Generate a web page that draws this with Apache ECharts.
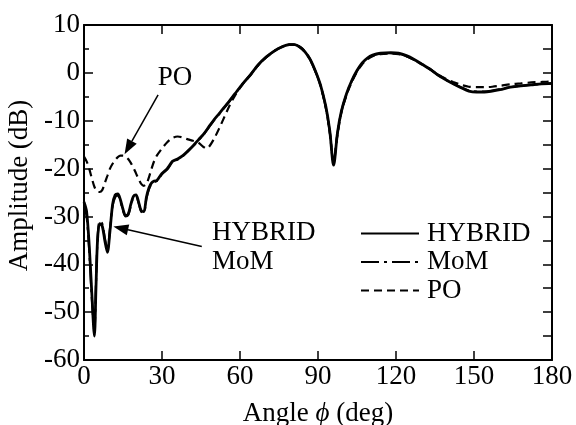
<!DOCTYPE html>
<html><head><meta charset="utf-8">
<script src="https://cdn.jsdelivr.net/npm/echarts@6/dist/echarts.min.js"></script>
<style>html,body{margin:0;padding:0;background:#fff}#c{width:576px;height:425px}</style>
</head><body><div id="c"></div>
<script>
var xTicks = [0, 30, 60, 90, 120, 150, 180];
var yTicks = [-60, -50, -40, -30, -20, -10, 0, 10];
var seriesNames = ['HYBRID', 'MoM', 'PO'];

var hybrid = [[0,-27],[1,-29],[2,-36],[3,-46],[4,-55],[4.6,-45],[5.2,-35],[6,-31.5],[7,-32],[8,-35],[9,-37.5],[10,-33],[11,-27.5],[12,-25.5],[13,-25.3],[14,-26.5],[15,-28.5],[16,-29.8],[17,-29.5],[18,-27.5],[19,-25.8],[20,-25.5],[21,-27],[22,-28.8],[23,-29],[24,-26],[25,-24],[26,-23],[27,-22.6],[28,-22.5],[30,-21],[32,-20],[34,-18.5],[36,-18],[38,-17.3],[40,-16.3],[42,-15.2],[44,-14],[46,-12.8],[48,-11.3],[50,-9.8],[52,-8.5],[55,-6.5],[58,-4.4],[61,-2.3],[64,-0.4],[67,1.7],[70,3.3],[73,4.5],[76,5.4],[79,5.9],[81,5.9],[83,5.4],[85,4.4],[87,2.8],[89,0.4],[91,-2.6],[93,-7],[94.5,-12],[96,-19.3],[97.5,-12.5],[99,-8],[101,-4.3],[103,-1.6],[105,0.5],[107,2.1],[109,3.1],[111,3.7],[114,4.1],[118,4.2],[121,4.1],[124,3.6],[127,2.8],[130,1.8],[133,0.8],[136,-0.4],[139,-1.4],[142,-2.3],[145,-3.1],[148,-3.8],[151,-4.0],[154,-4.0],[157,-3.8],[160,-3.5],[164,-3.0],[168,-2.7],[172,-2.5],[176,-2.3],[180,-2.2]];

var mom = [[0,-27.5],[1,-30],[2,-37],[3,-47],[4,-54],[4.6,-44],[5.2,-35],[6,-31],[7,-31.5],[8,-34.5],[9,-37],[10,-32.5],[11,-27.8],[12,-26],[13,-25.6],[14,-26.8],[15,-28.8],[16,-30],[17,-29.7],[18,-27.8],[19,-26],[20,-25.7],[21,-27.2],[22,-29],[23,-29.3],[24,-26.3],[25,-24.3],[26,-23.2],[27,-22.8],[28,-22.6],[30,-21.2],[32,-20.2],[34,-18.7],[36,-18.1],[38,-17.4],[40,-16.4],[42,-15.3],[44,-14.1],[46,-12.9],[48,-11.4],[50,-9.9],[52,-8.6],[55,-6.6],[58,-4.5],[61,-2.3],[64,-0.4],[67,1.6],[70,3.2],[73,4.5],[76,5.4],[79,5.9],[81,5.9],[83,5.4],[85,4.4],[87,2.7],[89,0.3],[91,-2.7],[93,-7.2],[94.5,-12.2],[96,-18.8],[97.5,-12.6],[99,-8.1],[101,-4.4],[103,-1.7],[105,0.4],[107,2.0],[109,3.0],[111,3.6],[114,4.0],[118,4.1],[121,4.0],[124,3.5],[127,2.7],[130,1.8],[133,0.8],[136,-0.4],[139,-1.4],[142,-2.3],[145,-3.0],[148,-3.7],[151,-3.9],[154,-3.9],[157,-3.7],[160,-3.4],[164,-3.0],[168,-2.7],[172,-2.5],[176,-2.3],[180,-2.2]];

var po = [[0,-17.5],[1,-18.5],[2,-20],[3,-22],[4,-23.8],[5,-24.8],[6,-24.9],[7,-24.5],[8,-23],[9,-21.5],[10,-20],[11,-19],[12,-18.2],[13,-17.6],[14,-17.3],[15,-17.3],[16,-17.5],[17,-18],[18,-18.8],[19,-19.8],[20,-21],[21,-22.2],[22,-23.2],[23,-23.6],[24,-23.2],[25,-21.8],[26,-20],[27,-18.4],[28,-17.3],[30,-15.8],[32,-14.5],[34,-13.6],[36,-13.3],[38,-13.5],[40,-13.9],[42,-14.2],[44,-14.6],[46,-15.5],[47,-15.8],[48,-15.5],[50,-13.8],[52,-11.6],[54,-9.2],[56,-6.8],[58,-4.8],[61,-2.4],[64,-0.5],[67,1.6],[70,3.2],[73,4.5],[76,5.4],[79,5.9],[81,5.9],[83,5.4],[85,4.4],[87,2.8],[89,0.3],[91,-2.8],[93,-7.3],[94.5,-12.3],[96,-18.6],[97.5,-12.8],[99,-8.3],[101,-4.6],[103,-1.9],[105,0.2],[107,1.8],[109,2.8],[111,3.5],[114,3.9],[118,4.0],[121,3.9],[124,3.5],[127,2.7],[130,1.8],[133,0.8],[136,-0.3],[139,-1.2],[142,-1.9],[145,-2.5],[148,-2.9],[151,-3.0],[154,-3.0],[157,-2.9],[160,-2.7],[164,-2.4],[168,-2.2],[172,-2.0],[176,-1.9],[180,-1.8]];

var FONT = '"Liberation Serif","Times New Roman",serif';
var FS = 27;
var chart = echarts.init(document.getElementById('c'), null, {renderer:'canvas'});
var axisLine = {show:true, onZero:false, lineStyle:{color:'#000', width:2}};
var tick = {inside:true, length:9, lineStyle:{color:'#000', width:1.5}};
var option = {
  animation:false,
  backgroundColor:'#fff',
  grid:{left:84, right:24, top:25, bottom:65, containLabel:false, outerBoundsMode:'none'},
  legend:{
    orient:'vertical', left:360, top:220, padding:0, itemWidth:58, itemHeight:27, itemGap:1.5,
    data:seriesNames,
    itemStyle:{opacity:0},
    textStyle:{fontFamily:FONT, fontSize:FS, color:'#000', padding:[0,0,0,3]}
  },
  xAxis:[{
    type:'value', min:0, max:180, interval:30, position:'bottom',
    axisLine:axisLine, axisTick:tick,
    axisLabel:{fontFamily:FONT, fontSize:FS, color:'#000', margin:3},
    splitLine:{show:false},
    name:'Angle {i|\u03d5} (deg)', nameLocation:'middle', nameGap:40,
    nameTextStyle:{fontFamily:FONT, fontSize:FS, color:'#000', rich:{i:{fontFamily:FONT, fontStyle:'italic', fontSize:FS, color:'#000'}}}
  },{
    type:'value', min:0, max:180, interval:30, position:'top',
    axisLine:axisLine, axisTick:tick,
    axisLabel:{show:false}, splitLine:{show:false}
  }],
  yAxis:[{
    type:'value', min:-60, max:10, interval:10, position:'left',
    axisLine:axisLine, axisTick:tick,
    minorTick:{show:true, splitNumber:2, length:5, lineStyle:{color:'#000', width:1.5}},
    axisLabel:{fontFamily:FONT, fontSize:FS, color:'#000', margin:4},
    splitLine:{show:false}, minorSplitLine:{show:false},
    name:'Amplitude (dB)', nameLocation:'middle', nameGap:50,
    nameTextStyle:{fontFamily:FONT, fontSize:FS, color:'#000', padding:[0,0,0,14]}
  },{
    type:'value', min:-60, max:10, interval:5, position:'right',
    axisLine:axisLine, axisTick:tick,
    axisLabel:{show:false}, splitLine:{show:false}
  }],
  series:[
    {name:seriesNames[0], type:'line', data:hybrid, showSymbol:false, symbol:'none', smooth:0.3,
     lineStyle:{color:'#000', width:2.8, type:'solid'}, itemStyle:{color:'#000'}, z:3},
    {name:seriesNames[1], type:'line', data:mom, showSymbol:false, symbol:'none', smooth:0.3,
     lineStyle:{color:'#000', width:2.2, type:[18,5,3,5]}, itemStyle:{color:'#000'}, z:2},
    {name:seriesNames[2], type:'line', data:po, showSymbol:false, symbol:'none', smooth:0.3,
     lineStyle:{color:'#000', width:2.2, type:[8,5]}, itemStyle:{color:'#000'}, z:2}
  ]
};
chart.setOption(option);

function px(p){ return chart.convertToPixel({xAxisIndex:0, yAxisIndex:0}, p); }
function arrow(tail, head){
  var t = px(tail), h = px(head);
  var dx = h[0]-t[0], dy = h[1]-t[1], L = Math.sqrt(dx*dx+dy*dy);
  var ux = dx/L, uy = dy/L, hl = 15, hw = 5.5;
  var bx = h[0]-ux*hl, by = h[1]-uy*hl;
  return [
    {type:'line', shape:{x1:t[0], y1:t[1], x2:bx, y2:by}, style:{stroke:'#000', lineWidth:1.5}, z:10},
    {type:'polygon', shape:{points:[[h[0],h[1]],[bx-uy*hw, by+ux*hw],[bx+uy*hw, by-ux*hw]]}, style:{fill:'#000'}, z:10}
  ];
}
var poPos = px([35, -1]), hyPos = px([49.2, -33.5]), moPos = px([49.2, -39.6]);
var g = [].concat(
  arrow([28.5, -4.6], [15.6, -17.0]),
  arrow([45.3, -36.3], [11.3, -32.1]),
  [
    {type:'text', x:poPos[0], y:poPos[1], style:{text:'PO', font:FS+'px '+FONT, fill:'#000', align:'center', verticalAlign:'middle'}, z:10},
    {type:'text', x:hyPos[0], y:hyPos[1], style:{text:'HYBRID', font:FS+'px '+FONT, fill:'#000', align:'left', verticalAlign:'middle'}, z:10},
    {type:'text', x:moPos[0], y:moPos[1], style:{text:'MoM', font:FS+'px '+FONT, fill:'#000', align:'left', verticalAlign:'middle'}, z:10}
  ]
);
chart.setOption({graphic:g});
</script></body></html>
